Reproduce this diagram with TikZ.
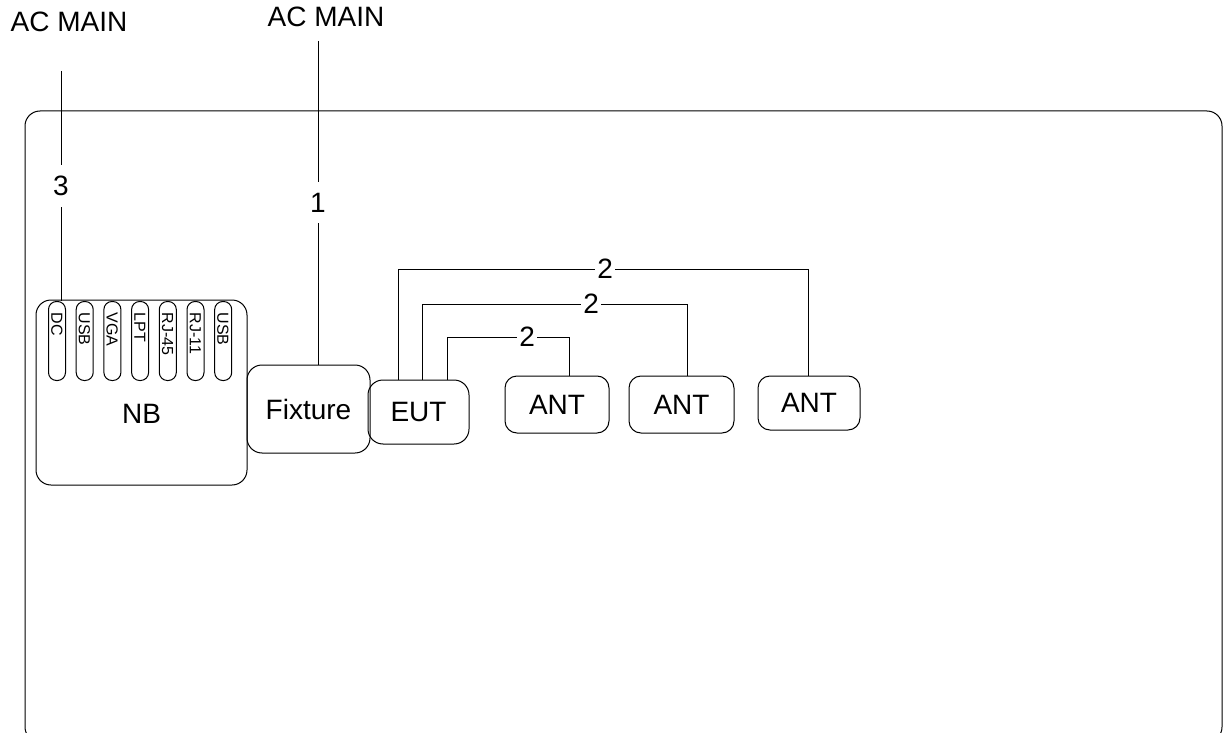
\documentclass[tikz,border=0pt]{standalone}
\usepackage{fontspec}
\setmainfont{Liberation Sans}
\usetikzlibrary{positioning}

\begin{document}
\begin{tikzpicture}[
    x=1pt, y=-1pt,
    line width=1pt,
    box/.style={draw, rounded corners=15pt, inner sep=0pt, font=\fontsize{28}{33}\selectfont},
    antbox/.style={box, rounded corners=12pt, minimum width=104, minimum height=57},
    port/.style={draw, rounded corners=8pt, rotate=-90, anchor=west, minimum width=79, minimum height=17,
        text width=57pt, align=left, text height=11.5pt, text depth=0pt, inner xsep=9pt, inner ysep=2.75pt,
        font=\fontsize{16}{19}\selectfont},
    txt/.style={inner sep=0pt, font=\fontsize{28}{33}\selectfont},
    num/.style={txt, fill=white, inner xsep=2pt, inner ysep=11pt},
    numh/.style={txt, fill=white, inner xsep=2.5pt, inner ysep=1pt},
]
\useasboundingbox (0,0) rectangle (1224,733);

% frame
\draw[rounded corners=15pt] (25,111) rectangle (1222,742);

% mains
\node[txt] (ac3) at (69,22) {AC MAIN};
\node[txt] (ac1) at (326,17) {AC MAIN};
\coordinate (c3) at (61,71);
\coordinate (c1) at (318,41);

% notebook with ports
\node[box, minimum width=211, minimum height=185] (nb) at (141.5,392.5) {};
\node[txt] (nbtext) at (141.5,414) {NB};
\foreach \lbl [count=\i] in {DC,USB,VGA,LPT,RJ-45,RJ-11,USB}
    \node[port] (p\i) at ({29.3+27.7*\i},301) {\lbl};

\node[box, minimum width=123, minimum height=88] (fix) at (308.5,409) {Fixture};
\node[box, minimum width=101, minimum height=64] (eut) at (418.5,412) {EUT};
\node[antbox] (ant1) at (557,404.5) {ANT};
\node[antbox, minimum width=105] (ant2) at (681.5,404.5) {ANT};
\node[antbox, minimum width=102, minimum height=54] (ant3) at (809,403) {ANT};

% power cables
\draw (c3) -- node[num] {3} (c3 |- p1.west);
\draw (c1) -- node[num] {1} (c1 |- fix.north);

% antenna cables
\coordinate (e1) at ([xshift=-20.5pt]eut.north);
\coordinate (e2) at ([xshift=3.5pt]eut.north);
\coordinate (e3) at ([xshift=28.5pt]eut.north);
\coordinate (a1) at ([xshift=12pt]ant1.north);
\coordinate (a2) at ([xshift=5.5pt]ant2.north);
\coordinate (a3) at ([xshift=-1pt]ant3.north);
\coordinate (w1) at (0,269);
\coordinate (w2) at (0,304);
\coordinate (w3) at (0,337);
\draw (e1) -- (e1 |- w1) -- node[numh, pos=0.505] {2} (a3 |- w1) -- (a3);
\draw (e2) -- (e2 |- w2) -- node[numh, pos=0.638] {2} (a2 |- w2) -- (a2);
\draw (e3) -- (e3 |- w3) -- node[numh, pos=0.656] {2} (a1 |- w3) -- (a1);

\end{tikzpicture}
\end{document}
